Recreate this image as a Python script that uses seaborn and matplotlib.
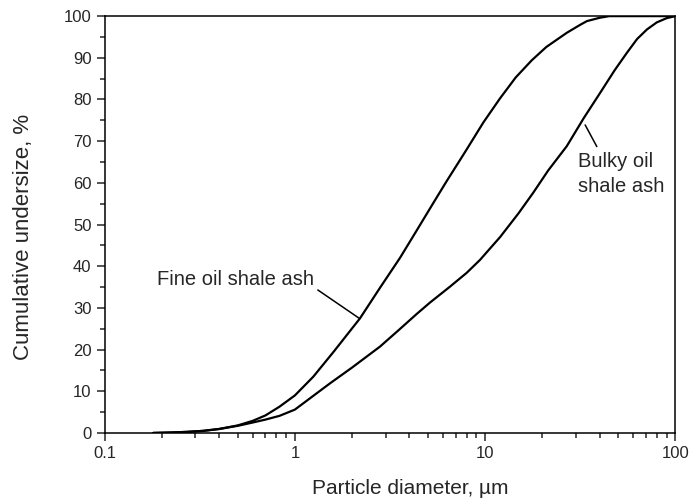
import numpy as np
import pandas as pd
import seaborn as sns
import matplotlib.pyplot as plt
from matplotlib.ticker import LogLocator, MultipleLocator, FixedLocator, FixedFormatter

# Data
fine_d = [0.18, 0.22, 0.27, 0.33, 0.4, 0.5, 0.6, 0.7, 0.83, 1.0, 1.25, 1.6, 2.2,
          2.8, 3.57, 4.36, 5.35, 6.28, 7.0, 8.0, 9.8, 12.0, 14.5, 17.6, 21.0,
          26.9, 31.6, 34.3, 40.0, 45.0, 100.0]
fine_u = [0.0, 0.1, 0.25, 0.5, 0.95, 1.8, 2.9, 4.2, 6.3, 9.0, 13.5, 19.5, 27.5,
          34.8, 42.0, 48.5, 55.2, 60.4, 63.8, 68.0, 74.5, 80.3, 85.3, 89.4, 92.6,
          96.0, 97.9, 98.8, 99.6, 100.0, 100.0]

bulky_d = [0.18, 0.22, 0.27, 0.33, 0.4, 0.5, 0.6, 0.7, 0.83, 1.0, 1.2, 1.53, 2.0,
           2.8, 3.5, 4.36, 5.14, 6.5, 8.0, 9.4, 12.0, 15.0, 17.9, 21.5, 26.9,
           33.0, 40.3, 48.0, 55.7, 63.0, 71.0, 80.0, 90.0, 100.0]
bulky_u = [0.0, 0.1, 0.25, 0.5, 0.95, 1.7, 2.5, 3.2, 4.1, 5.6, 8.3, 11.9, 15.7,
           20.7, 24.6, 28.5, 31.3, 35.0, 38.4, 41.5, 47.0, 52.7, 57.6, 63.0, 68.8,
           75.5, 81.6, 87.0, 91.2, 94.5, 96.8, 98.5, 99.5, 100.0]

x_ticks = [0.1, 1, 10, 100]
x_labels = ['0.1', '1', '10', '100']

df = pd.concat([
    pd.DataFrame({'d': fine_d, 'u': fine_u, 'ash': 'Fine oil shale ash'}),
    pd.DataFrame({'d': bulky_d, 'u': bulky_u, 'ash': 'Bulky oil shale ash'}),
])

sns.set_style('ticks')
plt.rcParams['font.family'] = ['Liberation Sans', 'DejaVu Sans']

fig, ax = plt.subplots(figsize=(6.89, 5.04), dpi=100)
fig.subplots_adjust(left=0.152, right=0.980, bottom=0.141, top=0.968)

sns.lineplot(data=df, x='d', y='u', hue='ash', palette=['black', 'black'],
             linewidth=1.6, legend=False, ax=ax, sort=False)

ax.set_xscale('log')
ax.set_xlim(0.1, 100)
ax.set_ylim(0, 100)

ax.xaxis.set_major_locator(FixedLocator(x_ticks))
ax.xaxis.set_major_formatter(FixedFormatter(x_labels))
ax.xaxis.set_minor_locator(LogLocator(base=10, subs=np.arange(2, 10)))
ax.xaxis.set_minor_formatter(FixedFormatter([]))
ax.yaxis.set_major_locator(MultipleLocator(10))
ax.yaxis.set_minor_locator(MultipleLocator(5))

for s in ax.spines.values():
    s.set_linewidth(1.1)
    s.set_color('black')
ax.tick_params(which='major', direction='out', length=6, width=1.1,
               labelsize=12, top=False, right=False)
ax.tick_params(which='minor', direction='out', length=3.5, width=1.1,
               top=False, right=False)

ax.set_xlabel('Particle diameter, \u00b5m', fontsize=15, va='center')
ax.set_ylabel('Cumulative undersize, %', fontsize=16, va='center')
ax.xaxis.set_label_coords(0.535, -0.134)
ax.yaxis.set_label_coords(-0.142, 0.47)

# annotations with leader lines
ax.text(0.188, 36.7, 'Fine oil shale ash', fontsize=14.5, va='center', ha='left')
ax.plot([1.32, 2.18], [34.3, 27.5], color='black', linewidth=1.1)

ax.text(30.8, 62.1, 'Bulky oil\nshale ash', fontsize=14.5, va='center', ha='left',
        linespacing=1.35)
ax.plot([33.6, 38.7], [73.9, 68.7], color='black', linewidth=1.1)

plt.savefig('out.png', dpi=100)
